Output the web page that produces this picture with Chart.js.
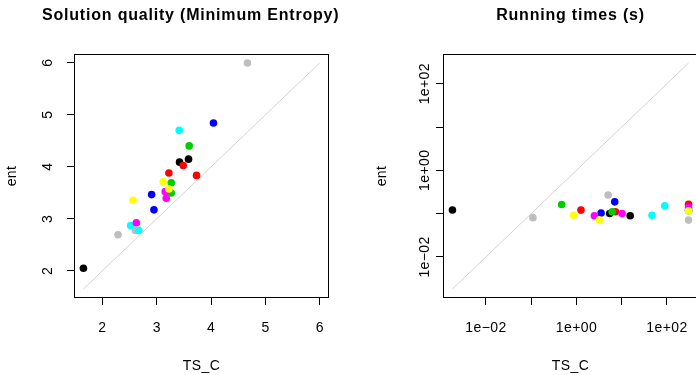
<!DOCTYPE html>
<html>
<head>
<meta charset="utf-8">
<script src="https://cdn.jsdelivr.net/npm/chart.js@4.4.1/dist/chart.umd.min.js"></script>
<style>
  html, body { margin: 0; padding: 0; background: #fff; overflow: hidden; }
  #wrap { position: relative; width: 696px; height: 375px; overflow: hidden; }
  #wrap canvas { position: absolute; top: 0; }
</style>
</head>
<body>
<div id="wrap">
  <canvas id="qualChart" width="348" height="375" style="left:0"></canvas>
  <canvas id="timeChart" width="360" height="375" style="left:348px"></canvas>
</div>
<script>
// R palette colours, one per point (drawn in this order)
const pointColors = [
  "#BEBEBE", "#BEBEBE",
  "#000000", "#000000", "#000000",
  "#FF0000", "#FF0000", "#FF0000",
  "#0000FF", "#0000FF", "#0000FF",
  "#00CD00", "#00CD00", "#00CD00",
  "#00FFFF", "#00FFFF", "#00FFFF",
  "#FF00FF", "#FF00FF", "#FF00FF",
  "#FFFF00", "#FFFF00", "#FFFF00",
  "#BEBEBE"
];

// solution quality: TS_C (x) vs ent (y)
const qualTS = [2.287, 2.606, 1.651, 3.419, 3.584, 3.223, 3.486, 3.731,
  2.905, 2.948, 4.043, 3.266, 3.266, 3.596, 2.52, 2.667, 3.413,
  2.624, 3.156, 3.174, 2.563, 3.119, 3.223, 4.667];
const qualEnt = [2.694, 2.777, 2.05, 4.089, 4.146, 3.879, 4.025, 3.834,
  3.465, 3.172, 4.841, 3.497, 3.694, 4.401, 2.87, 2.777, 4.70,
  2.924, 3.522, 3.395, 3.357, 3.713, 3.573, 5.994];

// running times in seconds
const timeTS = [0.109, 5.01, 0.00182, 5.43, 15.4, 1.26, 7.28, 300,
  3.50, 7.01, 300, 0.47, 6.14, 300, 46.7, 89.1, 300,
  2.49, 10.2, 300, 0.867, 3.21, 300, 300];
const timeEnt = [0.0807, 0.270, 0.121, 0.101, 0.0893, 0.1205, 0.110, 0.165,
  0.103, 0.187, 0.120, 0.163, 0.110, 0.116, 0.0912, 0.151, 0.120,
  0.0893, 0.101, 0.139, 0.0912, 0.0713, 0.116, 0.0708];

const qualTicks = [2, 3, 4, 5, 6];
const qualTickLabels = ["2", "3", "4", "5", "6"];
const timeTicks = [0.01, 0.1, 1, 10, 100];
const timeTickLabels = ["1e\u221202", "", "1e+00", "", "1e+02"];

const FONT = "'Liberation Sans', Arial, sans-serif";

// R style axis limits: data range stretched by 4% each side
function rLimits(lo, hi, log) {
  if (log) {
    const a = Math.log10(lo), b = Math.log10(hi), d = (b - a) * 0.04;
    return [Math.pow(10, a - d), Math.pow(10, b + d)];
  }
  const d = (hi - lo) * 0.04;
  return [lo - d, hi + d];
}

// draws box, rotated y tick labels and all titles
const rDecor = {
  id: "rDecor",
  beforeDraw(chart) {
    chart.ctx.letterSpacing = "0.4px";
  },
  afterDraw(chart) {
    const o = chart.options.plugins.rDecor;
    const ctx = chart.ctx;
    const a = chart.chartArea;
    const ys = chart.scales.y;
    ctx.save();
    ctx.strokeStyle = "#000";
    ctx.lineWidth = 1;
    ctx.strokeRect(a.left + 0.5, a.top + 0.5, a.right - a.left - 1, a.bottom - a.top - 1);

    ctx.fillStyle = "#000";
    ctx.font = "14px " + FONT;
    ctx.letterSpacing = "0.4px";
    ctx.textAlign = "center";
    ctx.textBaseline = "middle";
    o.yLabels.forEach((lab, i) => {
      if (!lab) return;
      const py = ys.getPixelForValue(o.yTicks[i]);
      ctx.save();
      ctx.translate(o.yLabelX, py);
      ctx.rotate(-Math.PI / 2);
      ctx.fillText(lab, 0, 0);
      ctx.restore();
    });

    // axis titles
    ctx.save();
    ctx.translate(o.yTitleX, (a.top + a.bottom) / 2);
    ctx.rotate(-Math.PI / 2);
    ctx.fillText("ent", 0, 0);
    ctx.restore();
    ctx.textBaseline = "alphabetic";
    ctx.fillText("TS_C", (a.left + a.right) / 2, 370);

    // main title
    ctx.font = "bold 16px " + FONT;
    ctx.letterSpacing = "0.8px";
    ctx.textAlign = o.titleAlign;
    ctx.fillText(o.title, o.titleAlign === "left" ? o.titleX : (a.left + a.right) / 2, 20);
    ctx.restore();
  }
};

function makePanel(id, xs, ys, cfg) {
  const all = xs.concat(ys);
  const lo = Math.min(...all), hi = Math.max(...all);
  const lim = rLimits(lo, hi, cfg.log);
  const type = cfg.log ? "logarithmic" : "linear";
  const points = xs.map((x, i) => ({ x: x, y: ys[i] }));

  const axis = (ticks, labels) => ({
    type: type,
    min: lim[0],
    max: lim[1],
    afterBuildTicks: s => { s.ticks = ticks.map(v => ({ value: v })); },
    grid: { drawOnChartArea: false, drawTicks: true, tickLength: 7, color: "#000", lineWidth: 1 },
    border: { display: false },
    ticks: {
      autoSkip: false, minRotation: 0, maxRotation: 0,
      color: "#000", padding: 15,
      font: { family: FONT, size: 14, lineHeight: 1.2 },
      callback: (v, i) => labels[i]
    }
  });

  const xAxis = axis(cfg.ticks, cfg.labels);
  xAxis.afterFit = s => { s.height = 375 - cfg.area.bottom; };
  const yAxis = axis(cfg.ticks, cfg.labels);
  yAxis.ticks.display = false;
  yAxis.afterFit = s => { s.width = cfg.area.left; };

  return new Chart(document.getElementById(id), {
    type: "scatter",
    data: {
      datasets: [
        {
          data: points,
          pointBackgroundColor: pointColors,
          pointBorderWidth: 0,
          pointRadius: 3.8,
          pointHoverRadius: 3.8
        },
        {
          data: [{ x: lo, y: lo }, { x: hi, y: hi }],
          showLine: true,
          borderColor: "#D3D3D3",
          borderWidth: 1,
          pointRadius: 0
        }
      ]
    },
    options: {
      responsive: false,
      animation: false,
      devicePixelRatio: 1,
      events: [],
      layout: { padding: { left: 0, top: cfg.area.top, right: cfg.width - cfg.area.right, bottom: 0 } },
      scales: { x: xAxis, y: yAxis },
      plugins: {
        legend: { display: false },
        tooltip: { enabled: false },
        rDecor: {
          title: cfg.title, titleAlign: cfg.titleAlign, titleX: cfg.titleX,
          yTicks: cfg.ticks, yLabels: cfg.labels,
          yLabelX: cfg.yLabelX, yTitleX: cfg.yTitleX
        }
      }
    },
    plugins: [rDecor]
  });
}

makePanel("qualChart", qualTS, qualEnt, {
  log: false, ticks: qualTicks, labels: qualTickLabels,
  width: 348, area: { left: 74, right: 329, top: 54, bottom: 298 },
  title: "Solution quality (Minimum Entropy)", titleAlign: "left", titleX: 42,
  yLabelX: 48, yTitleX: 12.5
});

makePanel("timeChart", timeTS, timeEnt, {
  log: true, ticks: timeTicks, labels: timeTickLabels,
  width: 360, area: { left: 95, right: 350, top: 54, bottom: 298 },
  title: "Running times (s)", titleAlign: "center",
  yLabelX: 77, yTitleX: 34
});
</script>
</body>
</html>
